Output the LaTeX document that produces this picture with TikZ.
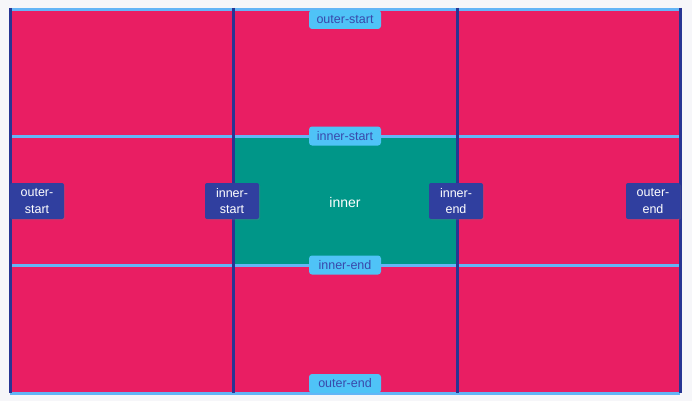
\documentclass[tikz,border=0pt]{standalone}
\usepackage{fontspec}
\setmainfont{Liberation Sans}
\usetikzlibrary{shadows}
\definecolor{bgc}{HTML}{F6F6F9}
\definecolor{redc}{HTML}{E91E63}
\definecolor{tealc}{HTML}{009688}
\definecolor{lblue}{HTML}{4FC3F7}
\definecolor{hline}{HTML}{64B5F6}
\definecolor{dblue}{HTML}{303F9F}
\definecolor{vline}{HTML}{283593}
\definecolor{ltext}{HTML}{3949AB}
\begin{document}
\begin{tikzpicture}[x=1pt,y=-1pt,
  hlab/.style={fill=lblue,rounded corners=3pt,text=ltext,font=\fontsize{12.5}{15}\selectfont,minimum width=72pt,minimum height=19pt,inner sep=0pt},
  vlab/.style={fill=dblue,rounded corners=2pt,text=white,font=\fontsize{12.5}{16.5}\selectfont,minimum width=54pt,minimum height=36pt,inner sep=0pt,align=center,drop shadow={opacity=0.25,shadow xshift=1pt,shadow yshift=-1pt}},
  hl/.style={draw=hline,line width=3pt},
  vl/.style={draw=vline,line width=3pt}]
\useasboundingbox (0,0) rectangle (692,401);
\fill[bgc] (0,0) rectangle (692,401);
\fill[redc] (10,10) rectangle (680,393);
\fill[tealc] (233,136) rectangle (457,265);
\coordinate (h1a) at (10,10); \coordinate (h1b) at (680,10);
\coordinate (h2a) at (10,136); \coordinate (h2b) at (680,136);
\coordinate (h3a) at (10,265); \coordinate (h3b) at (680,265);
\coordinate (h4a) at (10,393); \coordinate (h4b) at (680,393);
\draw[hl] (h1a) -- (h1b);
\draw[hl] (h2a) -- (h2b);
\draw[hl] (h3a) -- (h3b);
\draw[hl] (h4a) -- (h4b);
\coordinate (v1a) at (10,8); \coordinate (v1b) at (10,393);
\coordinate (v2a) at (233,8); \coordinate (v2b) at (233,393);
\coordinate (v3a) at (457,8); \coordinate (v3b) at (457,393);
\coordinate (v4a) at (680,8); \coordinate (v4b) at (680,393);
\draw[vl] (v1a) -- (v1b);
\draw[vl] (v2a) -- (v2b);
\draw[vl] (v3a) -- (v3b);
\draw[vl] (v4a) -- (v4b);
\node[text=white,font=\fontsize{14}{16}\selectfont] (inner) at (345,202) {inner};
\node[hlab] (os) at (345,19.5) {outer-start};
\node[hlab] (is) at (345,136) {inner-start};
\node[hlab] (ie) at (345,265) {inner-end};
\node[hlab] (oe) at (345,383.5) {outer-end};
\node[vlab] (vos) at (37,201) {outer-\\start};
\node[vlab] (vis) at (232,201) {inner-\\start};
\node[vlab] (vie) at (456,201) {inner-\\end};
\node[vlab] (voe) at (653,201) {outer-\\end};
\end{tikzpicture}
\end{document}
